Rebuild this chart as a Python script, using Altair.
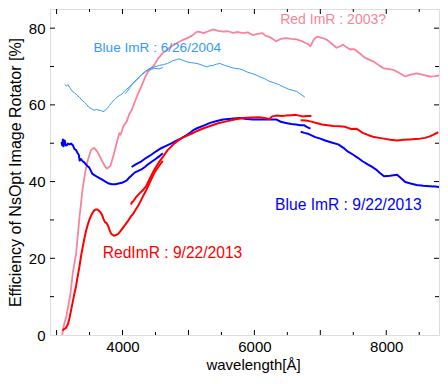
import altair as alt
import pandas as pd

# ---------------- data ----------------
pink_x = [3085, 3110, 3148, 3180, 3207, 3246, 3296, 3346, 3395, 3430, 3469, 3520, 3569, 3618, 3692, 3740, 3767,
          3817, 3866, 3915, 3951, 3970, 4015, 4064, 4100, 4138, 4213, 4287, 4337, 4387, 4440, 4486, 4535, 4610,
          4684, 4760, 4833, 4900, 4981, 5050, 5130, 5180, 5230, 5300, 5378, 5450, 5527, 5600, 5676, 5750, 5825,
          5900, 5973, 6050, 6122, 6170, 6220, 6280, 6330, 6400, 6478, 6560, 6640, 6720, 6815, 6851, 6900, 6949,
          7020, 7098, 7170, 7246, 7300, 7346, 7400, 7445, 7520, 7600, 7668, 7740, 7817, 7890, 7966, 8040, 8115,
          8200, 8288, 8370, 8461, 8560, 8659, 8740, 8818]
pink_y = [0.0, 2.5, 4.9, 8.0, 10.3, 16.2, 21.2, 30.5, 38.2, 42.0, 45.3, 48.2, 48.8, 47.8, 45.3, 43.8, 43.4,
          44.1, 47.0, 50.3, 52.6, 52.2, 54.5, 55.7, 57.5, 58.6, 62.0, 64.9, 67.0, 68.7, 69.6, 70.5, 72.0, 73.5,
          74.5, 75.5, 76.2, 76.8, 77.4, 78.0, 79.1, 79.0, 78.7, 79.2, 79.7, 79.3, 79.1, 79.2, 78.8, 79.0, 78.7,
          78.9, 78.2, 78.5, 78.7, 78.0, 77.8, 77.2, 76.6, 77.2, 77.4, 77.2, 77.1, 76.6, 75.8, 75.3, 77.0, 77.8,
          77.5, 77.0, 76.0, 74.9, 75.3, 75.7, 75.0, 74.5, 74.5, 73.4, 72.4, 71.8, 71.2, 70.3, 69.5, 69.3, 69.1,
          68.3, 67.4, 67.9, 68.2, 67.8, 67.4, 67.5, 67.7]

lblue1_x = [3123, 3150, 3172, 3200, 3240, 3271, 3310, 3346, 3380, 3420, 3460, 3494, 3530, 3569, 3610, 3643,
            3680, 3703, 3740, 3767, 3800, 3841, 3880, 3915, 3950, 3990, 4030, 4064, 4100, 4138, 4180, 4213,
            4250, 4287, 4340, 4387, 4440, 4486, 4550, 4610]
lblue1_y = [65.3, 64.9, 65.3, 64.5, 63.5, 63.2, 62.5, 62.0, 61.3, 60.7, 60.0, 59.3, 59.0, 58.6, 58.8, 58.6,
            58.5, 58.2, 58.6, 59.1, 59.8, 60.7, 61.4, 62.0, 62.4, 62.8, 63.6, 64.1, 64.6, 65.3, 66.0, 66.6,
            67.3, 67.8, 68.5, 69.1, 69.3, 69.5, 69.4, 69.7]
lblue2_x = [4040, 4100, 4150, 4213, 4287, 4350, 4420, 4486, 4560, 4620, 4684, 4760, 4820, 4858, 4920, 4981,
            5050, 5130, 5200, 5279, 5330, 5378, 5420, 5477, 5550, 5625, 5700, 5770, 5825, 5900, 5960, 6022,
            6100, 6160, 6220, 6290, 6369, 6440, 6518, 6580, 6642, 6700, 6766]
lblue2_y = [62.9, 64.2, 65.5, 66.4, 67.9, 68.8, 69.6, 69.9, 70.3, 70.5, 70.8, 71.5, 71.8, 72.0, 71.6, 71.2,
            71.0, 70.8, 70.4, 69.9, 70.2, 70.3, 70.6, 70.8, 70.3, 69.9, 69.5, 69.4, 69.1, 68.5, 68.2, 67.8,
            67.2, 66.8, 66.2, 65.8, 65.3, 64.7, 64.1, 63.8, 63.5, 62.8, 62.0]

blue1_x = [3074, 3085, 3095, 3105, 3123, 3140, 3160, 3172, 3200, 3220, 3246, 3270, 3296, 3320, 3336, 3350,
           3370, 3395, 3420, 3444, 3470, 3494, 3520, 3544, 3580, 3618, 3650, 3692, 3740, 3792, 3840, 3891,
           3940, 3990, 4030, 4064, 4100, 4138, 4188, 4240, 4287, 4340, 4387, 4436, 4486, 4550, 4610]
blue1_y = [50.3, 49.5, 51.0, 49.2, 50.7, 49.4, 49.5, 49.9, 49.7, 49.9, 49.5, 48.5, 48.2, 47.4, 47.0, 45.5,
           45.9, 45.3, 45.0, 44.5, 44.0, 43.7, 42.8, 42.0, 41.6, 41.2, 40.9, 40.5, 40.0, 39.5, 39.3, 39.3,
           39.5, 39.7, 40.0, 40.3, 41.0, 41.6, 42.4, 42.8, 43.2, 43.8, 44.5, 45.1, 45.7, 46.5, 47.4]
blue2_x = [4138, 4200, 4287, 4360, 4436, 4510, 4585, 4660, 4733, 4810, 4882, 4960, 5030, 5080, 5130, 5230,
           5328, 5430, 5527, 5650, 5774, 5884, 5980, 6082, 6200, 6330, 6400, 6478, 6560, 6627, 6700, 6751,
           6800, 6851]
blue2_y = [43.8, 44.5, 45.3, 46.2, 47.0, 47.9, 48.7, 49.3, 49.9, 50.6, 51.2, 52.0, 52.8, 53.5, 53.9, 54.6,
           55.3, 55.8, 56.2, 56.4, 56.6, 56.3, 56.2, 56.2, 56.2, 56.2, 55.6, 55.3, 55.0, 54.9, 54.7, 54.7,
           54.2, 53.8]
blue3_x = [6702, 6760, 6825, 6924, 7000, 7073, 7170, 7271, 7350, 7420, 7500, 7569, 7640, 7718, 7780, 7841,
           7900, 7966, 8060, 8164, 8230, 8288, 8370, 8461, 8560, 8659, 8740, 8808]
blue3_y = [53.0, 52.7, 52.4, 51.6, 51.2, 50.7, 50.2, 49.7, 48.8, 47.8, 47.0, 46.2, 45.3, 44.5, 43.9, 43.2,
           42.3, 41.4, 41.5, 41.8, 40.8, 39.9, 39.5, 39.1, 38.9, 38.8, 38.7, 38.6]

red1_x = [3089, 3110, 3140, 3172, 3197, 3220, 3246, 3270, 3296, 3320, 3346, 3370, 3395, 3420, 3444, 3470,
          3494, 3520, 3544, 3570, 3593, 3620, 3643, 3670, 3692, 3712, 3732, 3760, 3780, 3800, 3825, 3841,
          3870, 3891, 3930, 3966, 4000, 4040, 4089, 4130, 4163, 4200, 4238, 4280, 4312, 4361, 4420, 4486,
          4550, 4610]
red1_y = [1.2, 1.5, 1.8, 2.8, 4.5, 6.5, 8.7, 10.8, 12.8, 15.3, 17.8, 20.5, 22.8, 25.0, 27.0, 28.6,
          29.9, 31.0, 31.8, 32.5, 32.7, 32.7, 32.4, 31.9, 31.2, 30.2, 29.5, 29.1, 28.5, 27.5, 26.5, 26.2,
          25.9, 26.0, 26.3, 27.0, 27.8, 28.7, 29.9, 31.0, 31.6, 32.7, 33.7, 35.1, 36.2, 37.8, 40.0, 42.4,
          44.0, 45.4]
red2_x = [4130, 4140, 4160, 4200, 4250, 4300, 4361, 4420, 4486, 4550, 4610, 4684, 4783, 4882, 4981, 5060,
          5130, 5230, 5328, 5450, 5576, 5700, 5825, 5950, 6071, 6150, 6230, 6270, 6330, 6419, 6478, 6560,
          6627, 6680, 6726, 6790, 6865]
red2_y = [34.0, 34.6, 34.8, 35.8, 36.8, 37.6, 38.9, 41.0, 43.2, 45.0, 46.4, 48.2, 49.9, 51.2, 52.0, 52.6,
          53.2, 53.9, 54.5, 55.2, 55.7, 56.2, 56.6, 56.7, 56.8, 56.6, 56.3, 57.0, 57.2, 57.1, 57.2, 57.3,
          57.4, 57.2, 57.0, 57.1, 57.1]
red3_x = [6702, 6780, 6851, 6940, 7024, 7110, 7197, 7290, 7371, 7420, 7469, 7544, 7600, 7643, 7730, 7817,
          7890, 7966, 8060, 8164, 8260, 8362, 8440, 8511, 8590, 8659, 8710, 8758, 8790]
red3_y = [56.0, 55.9, 55.7, 55.3, 54.9, 54.7, 54.5, 54.4, 54.3, 54.0, 53.7, 53.8, 53.2, 52.7, 52.1, 51.6,
          51.4, 51.2, 50.9, 50.7, 50.9, 51.0, 51.1, 51.2, 51.4, 51.8, 52.2, 52.6, 52.9]

series_names = ["Red ImR : 2003?", "Blue ImR : 6/26/2004", "Blue ImR : 9/22/2013", "RedImR : 9/22/2013"]
series_colors = ["#F9849A", "#3399FF", "#0000FF", "#FF0000"]
series_widths = [1.8, 1.0, 2.0, 2.0]

label_text = series_names
label_x = [7194, 4528, 7425, 4758]
label_y = [82.2, 74.8, 33.95, 21.3]
label_size = [14, 13.6, 15.6, 15.6]

x_major_ticks = [3000, 4000, 5000, 6000, 7000, 8000]
x_minor_ticks = [3500, 4500, 5500, 6500, 7500, 8500]
x_label_values = [4000, 6000, 8000]
y_major_ticks = [20, 40, 60, 80]
y_minor_ticks = [10, 30, 50, 70]
y_label_values = [0, 20, 40, 60, 80]

# ---------------- build tables ----------------
segments = [
    (0, "p1", pink_x, pink_y),
    (1, "lb1", lblue1_x, lblue1_y),
    (1, "lb2", lblue2_x, lblue2_y),
    (2, "b1", blue1_x, blue1_y),
    (2, "b2", blue2_x, blue2_y),
    (2, "b3", blue3_x, blue3_y),
    (3, "r1", red1_x, red1_y),
    (3, "r2", red2_x, red2_y),
    (3, "r3", red3_x, red3_y),
]
rows = []
for si, seg, xs, ys in segments:
    for i, (xv, yv) in enumerate(zip(xs, ys)):
        rows.append({"wl": xv, "eff": yv, "seg": seg, "i": i, "s": si})
df = pd.DataFrame(rows)

labels_df = pd.DataFrame({"wl": label_x, "eff": label_y, "txt": label_text,
                          "col": series_colors, "fs": label_size})

W, H = 389, 326
FONT = "Liberation Sans"

xscale = alt.Scale(domain=[2900, 8800], nice=False, zero=False)
yscale = alt.Scale(domain=[0, 85], nice=False, zero=False)

xaxis = alt.Axis(values=x_label_values, ticks=False, domain=False, grid=False, format="d",
                 labelFont=FONT, labelFontSize=15, labelColor="black", labelPadding=4,
                 title="wavelength[Å]", titleFont=FONT, titleFontSize=15, titleFontWeight="normal",
                 titleColor="black", titlePadding=3, titleX=203)
yaxis = alt.Axis(values=y_label_values, ticks=False, domain=False, grid=False,
                 labelFont=FONT, labelFontSize=15, labelColor="black", labelPadding=5,
                 title="Efficiency of NsOpt Image Rotator [%]", titleFont=FONT, titleFontSize=16,
                 titleFontWeight="normal", titleColor="black", titlePadding=5)

X = alt.X("wl:Q", scale=xscale, axis=xaxis)
Y = alt.Y("eff:Q", scale=yscale, axis=yaxis)

layers = []
for si in range(4):
    layers.append(
        alt.Chart(df[df.s == si]).mark_line(clip=True, color=series_colors[si],
                                            strokeWidth=series_widths[si], strokeJoin="round")
        .encode(x=X, y=Y, detail="seg:N", order="i:Q")
    )

texts = alt.Chart(labels_df).mark_text(font=FONT, align="center", baseline="middle").encode(
    x=X, y=Y, text="txt:N",
    color=alt.Color("col:N", scale=None),
    size=alt.Size("fs:Q", scale=None),
)

def xticks(vals, length):
    d = pd.DataFrame({"wl": vals})
    b = alt.Chart(d).mark_rule(color="black", strokeWidth=1).encode(
        x=X, y=alt.value(H), y2=alt.value(H - length))
    t = alt.Chart(d).mark_rule(color="black", strokeWidth=1).encode(
        x=X, y=alt.value(0), y2=alt.value(length))
    return [b, t]

def yticks(vals, length):
    d = pd.DataFrame({"eff": vals})
    l = alt.Chart(d).mark_rule(color="black", strokeWidth=1).encode(
        y=Y, x=alt.value(0), x2=alt.value(length))
    r = alt.Chart(d).mark_rule(color="black", strokeWidth=1).encode(
        y=Y, x=alt.value(W), x2=alt.value(W - length))
    return [l, r]

tick_layers = xticks(x_major_ticks, 5) + xticks(x_minor_ticks, 3) + yticks(y_major_ticks, 5) + yticks(y_minor_ticks, 4)

chart = alt.layer(*(tick_layers + layers + [texts])).properties(
    width=W, height=H,
    autosize=alt.AutoSizeParams(type="none"),
    padding={"left": 42, "top": 1, "right": 1, "bottom": 40},
).configure_view(stroke="black", strokeWidth=1.2).configure(background="white")

chart.save("out.html", embed_options={"renderer": "svg", "actions": False})
